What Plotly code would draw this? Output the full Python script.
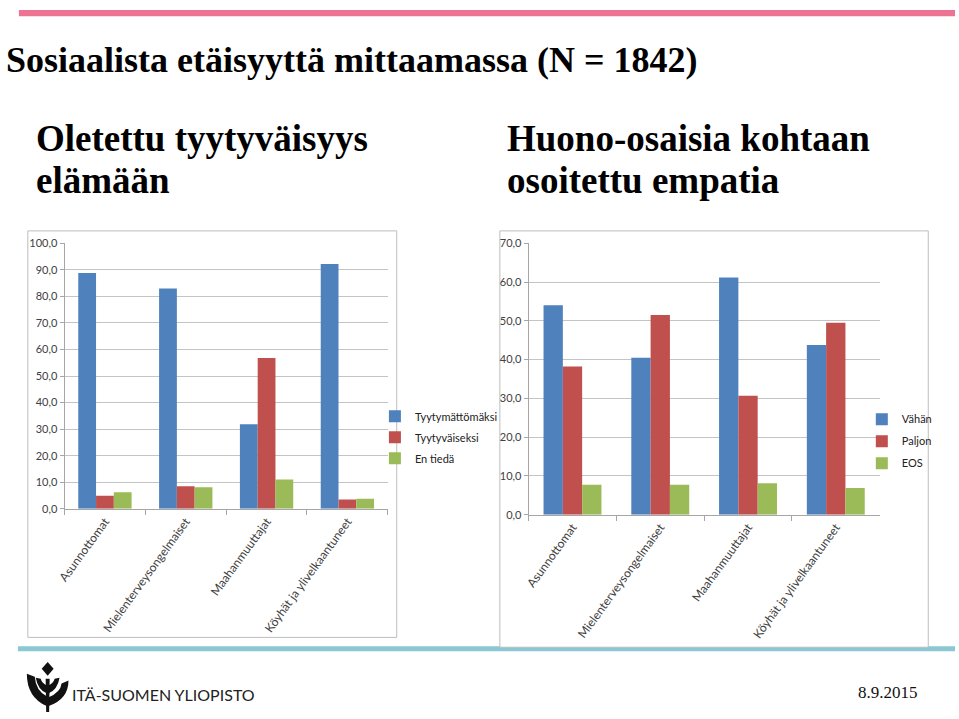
import plotly.graph_objects as go

W, H = 959, 719

categories = ["Asunnottomat", "Mielenterveysongelmaiset", "Maahanmuuttajat", "Köyhät ja ylivelkaantuneet"]

# Left chart: Oletettu tyytyväisyys elämään
left_names = ["Tyytymättömäksi", "Tyytyväiseksi", "En tiedä"]
left_tyytymattomaksi = [88.8, 83.0, 31.8, 92.2]
left_tyytyvaiseksi = [4.9, 8.5, 56.8, 3.5]
left_en_tieda = [6.2, 8.1, 11.0, 3.8]

# Right chart: Huono-osaisia kohtaan osoitettu empatia
right_names = ["Vähän", "Paljon", "EOS"]
right_vahan = [54.0, 40.5, 61.2, 43.8]
right_paljon = [38.2, 51.5, 30.7, 49.5]
right_eos = [7.7, 7.7, 8.1, 6.9]

colors = ["#4F81BD", "#C0504D", "#9BBB59"]

title_text = "Sosiaalista etäisyyttä mittaamassa (N = 1842)"
left_title_lines = ["Oletettu tyytyväisyys", "elämään"]
right_title_lines = ["Huono-osaisia kohtaan", "osoitettu empatia"]
footer_text = "ITÄ-SUOMEN YLIOPISTO"
date_text = "8.9.2015"


def px(x):
    return x / W


def py(y):
    return 1 - y / H


fig = go.Figure()

for name, vals, col in zip(left_names, [left_tyytymattomaksi, left_tyytyvaiseksi, left_en_tieda], colors):
    fig.add_trace(go.Bar(x=categories, y=vals, name=name, marker_color=col, marker_line_width=0,
                         xaxis="x", yaxis="y", legend="legend", legendgroup="L" + name))

for name, vals, col in zip(right_names, [right_vahan, right_paljon, right_eos], colors):
    fig.add_trace(go.Bar(x=categories, y=vals, name=name, marker_color=col, marker_line_width=0,
                         xaxis="x2", yaxis="y2", legend="legend2", legendgroup="R" + name))

sans = "Lato, Open Sans, sans-serif"
ytickfont = dict(family=sans, size=11, color="#404040")
xtickfont = dict(family=sans, size=12, color="#404040")

xcommon = dict(type="category", showline=True, linecolor="#A6A6A6", linewidth=1,
               ticks="outside", tickson="boundaries", ticklen=5, tickcolor="#A6A6A6",
               tickangle=-54, tickfont=xtickfont, showgrid=False, fixedrange=True)
ycommon = dict(showline=True, linecolor="#A6A6A6", linewidth=1, ticks="outside", ticklen=4,
               tickcolor="#A6A6A6", showgrid=True, gridcolor="#C4C4C4", gridwidth=1,
               tickformat=".1f", dtick=10, tickfont=ytickfont, zeroline=False, fixedrange=True)

legfont = dict(family=sans, size=11, color="#222")

fig.update_layout(
    width=W, height=H,
    margin=dict(l=0, r=0, t=0, b=0),
    paper_bgcolor="white", plot_bgcolor="white",
    separators=", ",
    barmode="group", bargap=0.34, bargroupgap=0,
    xaxis=dict(domain=[px(57), px(383)], anchor="y", **xcommon),
    yaxis=dict(domain=[py(511), py(240.7)], anchor="x", range=[0, 100], **ycommon),
    xaxis2=dict(domain=[px(525), px(879)], anchor="y2", **xcommon),
    yaxis2=dict(domain=[py(517), py(240.7)], anchor="x2", range=[0, 70], **ycommon),
    legend=dict(x=px(370), y=py(402), xanchor="left", yanchor="top", font=legfont,
                bgcolor="rgba(0,0,0,0)", tracegroupgap=2, itemclick=False),
    legend2=dict(x=px(861), y=py(405), xanchor="left", yanchor="top", font=legfont,
                 bgcolor="rgba(0,0,0,0)", tracegroupgap=3, itemclick=False),
    showlegend=True,
)

shapes = []
shapes.append(dict(type="rect", xref="paper", yref="paper", x0=px(11), x1=px(955), y0=py(9.5), y1=py(3),
                   fillcolor="#EC7391", line_width=0, layer="below"))
shapes.append(dict(type="rect", xref="paper", yref="paper", x0=px(10), x1=px(955), y0=py(656), y1=py(651),
                   fillcolor="#8CC7D4", line_width=0, layer="below"))
shapes.append(dict(type="rect", xref="paper", yref="paper", x0=px(20), x1=px(392), y0=py(642), y1=py(228),
                   line=dict(color="#BDBDBD", width=1), fillcolor="rgba(0,0,0,0)", layer="below"))
shapes.append(dict(type="rect", xref="paper", yref="paper", x0=px(496), x1=px(928), y0=py(652), y1=py(228),
                   line=dict(color="#BDBDBD", width=1), fillcolor="white", layer="below"))


def path_from(cmds):
    out = []
    for c in cmds:
        if isinstance(c, str):
            out.append(c)
        else:
            out.append("%.5f,%.5f" % (px(c[0]), py(c[1])))
    return " ".join(out)


logo_paths = [
    ["M", (40, 667), "L", (46, 674), "L", (40, 681), "L", (34, 674), "Z"],
    ["M", (19, 679), "Q", (19, 703), (39, 712), "L", (39, 702), "Q", (28, 696), (27, 682), "Z"],
    ["M", (61, 686), "Q", (61, 705), (41, 712), "L", (41, 703), "Q", (53, 698), (54, 689), "Z"],
    ["M", (28, 683), "Q", (30, 695), (39, 699), "L", (39, 691), "Q", (34, 688), (33, 684), "Z"],
    ["M", (52, 683), "Q", (50, 695), (41, 699), "L", (41, 691), "Q", (46, 688), (47, 684), "Z"],
    ["M", (38, 684), "L", (42, 684), "L", (41.5, 718), "L", (38.5, 718), "Z"],
]
for p in logo_paths:
    shapes.append(dict(type="path", xref="paper", yref="paper", path=path_from(p),
                       fillcolor="#111111", line_width=0))

fig.update_layout(shapes=shapes)

serif = "Liberation Serif, Times New Roman, serif"
annotations = [
    dict(text="<b>%s</b>" % title_text, x=px(-4), y=py(54), xanchor="left", yanchor="middle",
         font=dict(family=serif, size=36, color="#000")),
    dict(text="<b>%s</b>" % left_title_lines[0], x=px(26), y=py(110.5), xanchor="left", yanchor="top",
         font=dict(family=serif, size=37, color="#000")),
    dict(text="<b>%s</b>" % left_title_lines[1], x=px(26), y=py(153.5), xanchor="left", yanchor="top",
         font=dict(family=serif, size=37, color="#000")),
    dict(text="<b>%s</b>" % right_title_lines[0], x=px(501), y=py(110.5), xanchor="left", yanchor="top",
         font=dict(family=serif, size=37, color="#000")),
    dict(text="<b>%s</b>" % right_title_lines[1], x=px(501), y=py(153.5), xanchor="left", yanchor="top",
         font=dict(family=serif, size=37, color="#000")),
    dict(text=footer_text, x=px(63), y=py(700), xanchor="left", yanchor="middle",
         font=dict(family=sans, size=16, color="#222")),
    dict(text=date_text, x=px(920), y=py(698), xanchor="right", yanchor="middle",
         font=dict(family=serif, size=17, color="#111")),
]
for a in annotations:
    a.update(xref="paper", yref="paper", showarrow=False)
fig.update_layout(annotations=annotations)

fig.write_html("out.html")
